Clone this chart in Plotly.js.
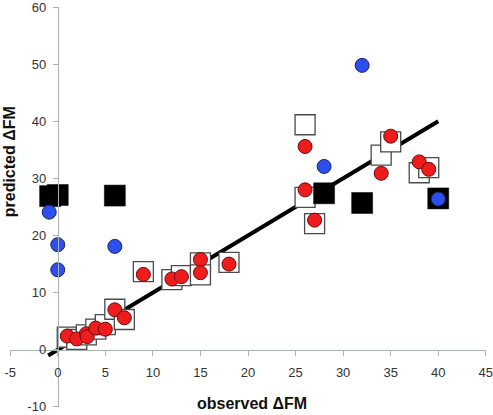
<!DOCTYPE html>
<html>
<head>
<meta charset="utf-8">
<script src="https://cdn.plot.ly/plotly-3.0.1.min.js"></script>
<style>html,body{margin:0;padding:0;background:#fff;}#chart{width:493px;height:415px;}</style>
</head>
<body>
<div id="chart"></div>
<script>
// Regression line (y = x)
const fitX = [-1, 40];
const fitY = [-1, 40];

// Open squares
const openSqX = [1, 2, 3, 4, 5, 6, 7, 9, 12, 13, 15, 15, 18, 26, 26, 27, 34, 35, 38, 39];
const openSqY = [2.2, 1.8, 2.6, 3.6, 4.4, 7.1, 5.3, 13.7, 12.3, 13.0, 15.2, 13.1, 15.3, 39.4, 26.7, 22.1, 34.1, 36.4, 31.0, 31.9];

// Filled black squares
const blackSqX = [-0.8, 0, 6, 28, 32, 40];
const blackSqY = [26.9, 27.1, 27.0, 27.4, 25.7, 26.5];

// Red circles
const redX = [1, 2, 3, 3.1, 4, 5, 6, 7, 9, 12, 13, 15, 15, 18, 26, 26, 27, 34, 35, 38, 39];
const redY = [2.4, 1.9, 2.8, 2.3, 3.8, 3.6, 7.0, 5.6, 13.2, 12.4, 12.8, 15.8, 13.5, 15.0, 35.6, 28.0, 22.7, 30.9, 37.4, 32.9, 31.6];

// Blue circles
const blueX = [-0.9, 0, 0, 6, 32, 28, 40];
const blueY = [24.1, 18.4, 14.0, 18.1, 49.8, 32.1, 26.4];

// Axis ticks
const xTicks = [-5, 0, 5, 10, 15, 20, 25, 30, 35, 40, 45];
const yTicks = [-10, 0, 10, 20, 30, 40, 50, 60];

const traces = [
  {x: fitX, y: fitY, mode: 'lines', line: {color: '#000', width: 4}, hoverinfo: 'skip'},
  {x: openSqX, y: openSqY, mode: 'markers',
   marker: {symbol: 'square', size: 20, color: '#ffffff', line: {color: '#4a4a4a', width: 1.3}}},
  {x: blackSqX, y: blackSqY, mode: 'markers',
   marker: {symbol: 'square', size: 21, color: '#000000', line: {color: '#000', width: 0.5}}},
  {x: redX, y: redY, mode: 'markers',
   marker: {symbol: 'circle', size: 14, color: '#ee1c1c', line: {color: '#6a0c0c', width: 1}}},
  {x: blueX, y: blueY, mode: 'markers',
   marker: {symbol: 'circle', size: 14, color: '#2d4ff0', line: {color: '#1a2466', width: 1}}}
];

const axisColor = '#a9b3b3';
const tickFont = {family: 'Liberation Sans, Arial, sans-serif', size: 13, color: '#333333'};

const layout = {
  width: 493, height: 415,
  margin: {l: 10, r: 7, t: 7, b: 8},
  paper_bgcolor: '#ffffff', plot_bgcolor: '#ffffff',
  showlegend: false,
  xaxis: {
    range: [-5.02, 45.02], tickvals: xTicks, ticktext: xTicks.map(String),
    anchor: 'free', position: 10.02 / 70.04,
    showline: true, linecolor: axisColor, linewidth: 1,
    ticks: 'outside', ticklen: 5, tickcolor: axisColor,
    showgrid: false, zeroline: false, tickfont: tickFont, ticklabelstandoff: 6,
    ticklabeloverflow: 'allow'
  },
  yaxis: {
    range: [-10.02, 60.02], tickvals: yTicks, ticktext: yTicks.map(String),
    anchor: 'free', position: 5.02 / 50.04,
    showline: true, linecolor: axisColor, linewidth: 1,
    ticks: 'outside', ticklen: 5, tickcolor: axisColor,
    showgrid: false, zeroline: false, tickfont: tickFont, ticklabelstandoff: 4,
    ticklabeloverflow: 'allow'
  },
  annotations: [
    {text: '<b>observed ΔFM</b>', xref: 'paper', yref: 'paper', x: 0.508, y: -0.017,
     xanchor: 'center', yanchor: 'bottom', showarrow: false,
     font: {family: 'Liberation Sans, Arial, sans-serif', size: 16, color: '#111'}},
    {text: '<b>predicted ΔFM</b>', xref: 'paper', yref: 'paper', x: -0.002, y: 0.612,
     xanchor: 'center', yanchor: 'middle', textangle: -90, showarrow: false,
     font: {family: 'Liberation Sans, Arial, sans-serif', size: 16, color: '#111'}}
  ]
};

Plotly.newPlot('chart', traces, layout, {displayModeBar: false, staticPlot: true});
</script>
</body>
</html>
